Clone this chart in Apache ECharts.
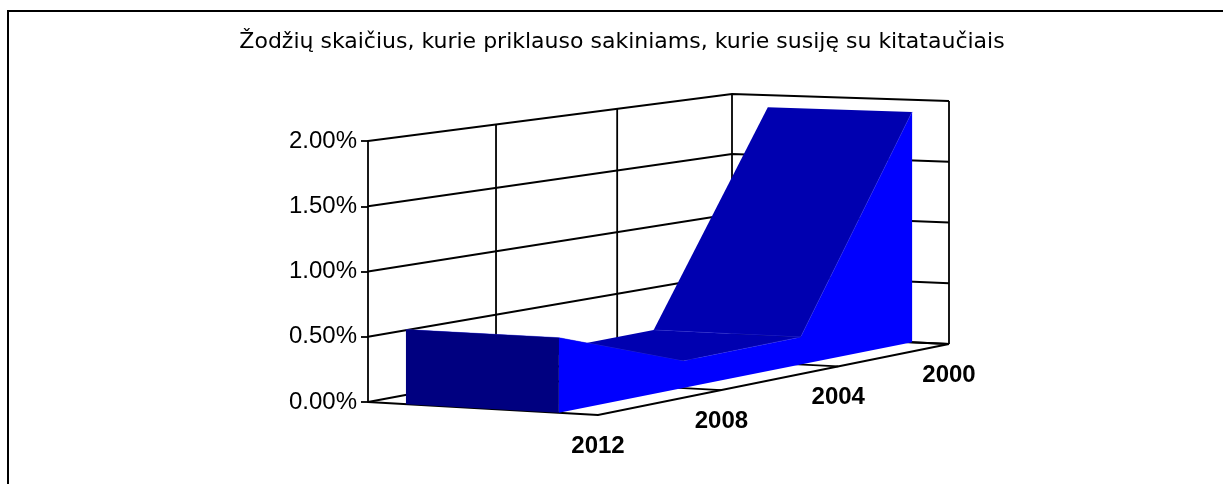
<!DOCTYPE html>
<html>
<head>
<meta charset="utf-8">
<style>html,body{margin:0;padding:0;background:#fff}#chart{width:1223px;height:484px}</style>
<script src="https://cdn.jsdelivr.net/npm/echarts@6/dist/echarts.min.js"></script>
</head>
<body>
<div id="chart"></div>
<script>
// years run from the front of the box to the back
const years = ['2012', '2008', '2004', '2000'];
const shares = [0.57, 0.21, 0.22, 1.9];
const valueTicks = [0, 0.5, 1, 1.5, 2];
const chartTitle = 'Žodžių skaičius, kurie priklauso sakiniams, kurie susiję su kitataučiais';

// the grid is the left edge of the box, everything else is projected from it
const GRID = {left: 368, top: 141, width: 364, height: 261};
// floor corners and the height of 2.00% at each corner
const BOX = {
    fl: [368, 402, 261], fr: [598, 415, 264],
    bl: [732, 334, 240], br: [949, 344, 243]
};
const AREA_W = [0.165, 0.83]; // the ribbon does not fill the box sideways
const PERSPECTIVE = 1.085;
const LINE = {stroke: '#000', lineWidth: 1.8, fill: null};

const lerp = (a, b, t) => a + (b - a) * t;

// t is depth 0..1 after perspective, w is sideways 0..1, f is fraction of the height
const project = (d, w, f) => {
    const t = PERSPECTIVE * d / (1 + (PERSPECTIVE - 1) * d);
    const p = [0, 1, 2].map(i => lerp(lerp(BOX.fl[i], BOX.fr[i], w), lerp(BOX.bl[i], BOX.br[i], w), t));
    return [p[0], p[1] - p[2] * f];
};

// goes through the axes, so the scales decide where a value lands
const toBox = (api, idx, value, w) => {
    const c = api.coord([idx, value]);
    return project((c[0] - GRID.left) / GRID.width, w, (GRID.top + GRID.height - c[1]) / GRID.height);
};

const line = (points, style) => ({
    type: 'polyline', shape: {points: points}, style: Object.assign({}, LINE, style), silent: true
});

const renderWalls = (params, api) => {
    const last = years.length - 1;
    const children = [];
    valueTicks.forEach(v => {
        children.push(line([toBox(api, 0, v, 0), toBox(api, last, v, 0), toBox(api, last, v, 1)]));
    });
    years.forEach((y, i) => {
        if (i > 0) {
            children.push(line([toBox(api, i, 0, 0), toBox(api, i, valueTicks[valueTicks.length - 1], 0)]));
            children.push(line([toBox(api, i, 0, 0), toBox(api, i, 0, 1)]));
        }
    });
    children.push(line([toBox(api, last, 0, 1), toBox(api, last, 2, 1)]));
    children.push(line([toBox(api, 0, 0, 0), toBox(api, 0, 0, 1), toBox(api, last, 0, 1)]));
    return {type: 'group', children: children};
};

const renderArea = (params, api) => {
    const children = [];
    const near = AREA_W[0], far = AREA_W[1];
    // back to front, the faces cover each other in this order
    for (let i = years.length - 2; i >= 0; i--) {
        const a = [toBox(api, i, shares[i], near), toBox(api, i, shares[i], far)];
        const b = [toBox(api, i + 1, shares[i + 1], far), toBox(api, i + 1, shares[i + 1], near)];
        children.push({type: 'polygon', shape: {points: a.concat(b)}, style: {fill: '#0000b0'}});
        children.push(line([a[1], b[0]], {stroke: '#3c3ce0', lineWidth: 0.6}));
        children.push(line([a[0], a[1]], {stroke: '#3c3ce0', lineWidth: 0.6}));
    }
    const side = years.map((y, i) => toBox(api, i, shares[i], far));
    side.push(toBox(api, years.length - 1, 0, far), toBox(api, 0, 0, far));
    children.push({type: 'polygon', shape: {points: side}, style: {fill: '#0000ff'}});
    children.push({
        type: 'polygon',
        shape: {points: [toBox(api, 0, 0, near), toBox(api, 0, shares[0], near), toBox(api, 0, shares[0], far), toBox(api, 0, 0, far)]},
        style: {fill: '#000080'}
    });
    return {type: 'group', children: children};
};

const renderYears = (params, api) => {
    const p = toBox(api, params.dataIndex, 0, 1);
    return {
        type: 'text', x: p[0], y: p[1] + 31,
        style: {
            text: years[params.dataIndex], fill: '#000',
            font: 'bold 24px "Liberation Sans"', align: 'center', verticalAlign: 'middle'
        }
    };
};

const chart = echarts.init(document.getElementById('chart'));
chart.setOption({
    animation: false,
    backgroundColor: '#fff',
    title: {
        text: chartTitle, left: 617, top: 26, textAlign: 'center',
        textStyle: {fontFamily: 'DejaVu Sans', fontSize: 22, fontWeight: 'normal', color: '#000'}
    },
    grid: GRID,
    xAxis: {type: 'category', data: years, boundaryGap: false, show: false},
    yAxis: {
        type: 'value', min: 0, max: 2, interval: 0.5,
        axisLine: {show: true, lineStyle: {color: '#000', width: 1.8}},
        axisTick: {show: true, length: 7, lineStyle: {color: '#000', width: 1.8}},
        splitLine: {show: false},
        axisLabel: {
            color: '#000', fontFamily: 'Liberation Sans', fontSize: 24, margin: 11,
            formatter: v => v.toFixed(2) + '%'
        }
    },
    // the frame runs off the right and the bottom of the picture
    graphic: [{
        type: 'polyline', silent: true,
        shape: {points: [[8, 484], [8, 11], [1223, 11]]},
        style: {stroke: '#000', lineWidth: 2, fill: null}
    }],
    series: [
        {type: 'custom', renderItem: renderWalls, data: [[0, 0]], z: 1, silent: true},
        {type: 'custom', renderItem: renderArea, data: [[0, shares[0]]], z: 2, silent: true},
        {type: 'custom', renderItem: renderYears, data: years.map((y, i) => [i, 0]), z: 3, silent: true}
    ]
});
</script>
</body>
</html>
